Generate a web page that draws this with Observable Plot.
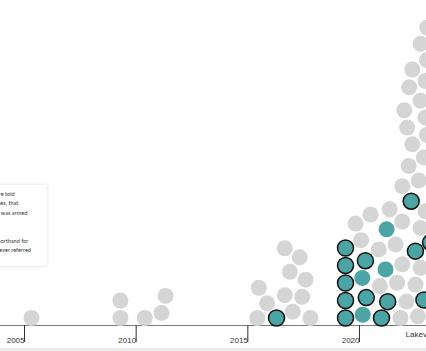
<!DOCTYPE html>
<html><head><meta charset="utf-8">
<script src="https://cdn.jsdelivr.net/npm/d3@7"></script>
<script src="https://cdn.jsdelivr.net/npm/@observablehq/plot@0.6"></script>
<style>
html,body{margin:0;padding:0;background:#fff;overflow:hidden;width:426px;height:351px}
#wrap{position:relative;width:426px;height:351px;overflow:hidden}
#chart{position:absolute;left:0;top:0;width:470px}
#chart svg{max-width:none !important;width:470px;height:351px}
.legend{position:absolute;left:-160px;top:185px;width:207px;height:81px;background:#fff;box-shadow:0 0 3px rgba(0,0,0,0.18);border-radius:2px}
.legend div{position:absolute;white-space:nowrap;font:5.6px Lato, sans-serif;line-height:6px;color:#333;text-align:right}
.divider{position:absolute;left:0;top:348px;width:426px;height:3px;background:#ebebeb}
</style></head>
<body>
<div id="wrap">
  <div id="chart"></div>
  <div class="legend">
    <div style="right:32.3px;top:5.5px">Teal dots: police were told</div>
    <div style="right:28.7px;top:15px">by callers or witnesses, that</div>
    <div style="right:19.7px;top:24.5px">the person they shot was armed</div>
    <div style="right:18.7px;top:52.5px">“Cop City” is used as shorthand for</div>
    <div style="right:16px;top:62px">the training center, a name police never referred</div>
  </div>
  <div class="divider"></div>
</div>
<script>
// decimal year of each incident, listed from the bottom of the swarm upward
const dotYears = [
  2005.18, 2009.16, 2010.25, 2011.00, 2015.29, 2016.15, 2016.88, 2017.67, 2019.24, 2020.01, 2020.85, 2021.70, 2022.48,
  2015.73, 2017.30, 2016.52, 2009.16, 2011.18, 2019.24, 2020.17, 2021.13, 2021.97, 2022.75,
  2015.36, 2017.45, 2016.75, 2019.24, 2019.99, 2020.78, 2021.55, 2022.37,
  2017.19, 2016.52, 2019.24, 2020.13, 2021.03, 2021.78, 2022.60,
  2019.24, 2019.94, 2020.73, 2021.48, 2022.37, 2023.05,
  2019.69, 2021.08, 2021.78, 2022.60, 2020.36,
  2021.22, 2022.82, 2022.18,
  2021.78, 2022.52, 2022.07, 2022.75, 2022.23, 2022.89, 2022.00, 2022.82,
  2021.87, 2022.60, 2022.09, 2022.82, 2022.23, 2022.89, 2022.60, 2022.90
];
// g = other, t = told suspect was armed, o = told armed + outlined
const dotKinds = [
  "g","g","g","g","g","o","g","g","o","t","o","g","g",
  "g","g","g","g","g","o","o","o","g","o",
  "g","g","g","o","t","g","g","g",
  "g","g","o","o","t","g","g",
  "o","g","g","g","o","o",
  "g","t","g","g","g",
  "g","g","o",
  "g","g","g","g","g","g","g","g",
  "g","g","g","g","g","g","g","g"
];
const tickYears = [2005, 2010, 2015, 2020];
const noteYears = [2021.93];
const noteTexts = ["Lakeview"];

const kindFill = {g: "#d5d5d5", t: "#4ba5a5", o: "#4ba5a5"};
const kindStroke = {g: "none", t: "none", o: "#111"};

const dots = dotYears.map((year, i) => ({year, kind: dotKinds[i]}));
const notes = noteYears.map((year, i) => ({year, text: noteTexts[i]}));

const chart = Plot.plot({
  width: 470, height: 351,
  marginTop: 0, marginRight: 0, marginBottom: 26, marginLeft: 0,
  x: {domain: [2003.791, 2024.836], axis: null, label: null},
  color: {type: "identity"},
  style: {background: "transparent", fontFamily: "'Liberation Sans', Arial, sans-serif", maxWidth: "none"},
  marks: [
    Plot.frame({anchor: "bottom", stroke: "#7a7a7a"}),
    Plot.axisX({ticks: tickYears, tickSize: 17, tickPadding: -2.5, lineAnchor: "middle", label: null,
      textAnchor: "end", dx: -3, tickFormat: d => String(d), fontSize: 8, fill: "#333", stroke: "#333"}),
    Plot.text(notes, {x: "year", text: "text", frameAnchor: "bottom", textAnchor: "start",
      dy: 11.7, fontSize: 8, fill: "#333"}),
    Plot.dot(dots, Plot.dodgeY({anchor: "bottom", x: "year", r: 8, padding: 1.5, dy: 2,
      fill: d => kindFill[d.kind], stroke: d => kindStroke[d.kind], strokeWidth: 1.5}))
  ]
});
document.getElementById("chart").append(chart);
</script>
</body></html>
